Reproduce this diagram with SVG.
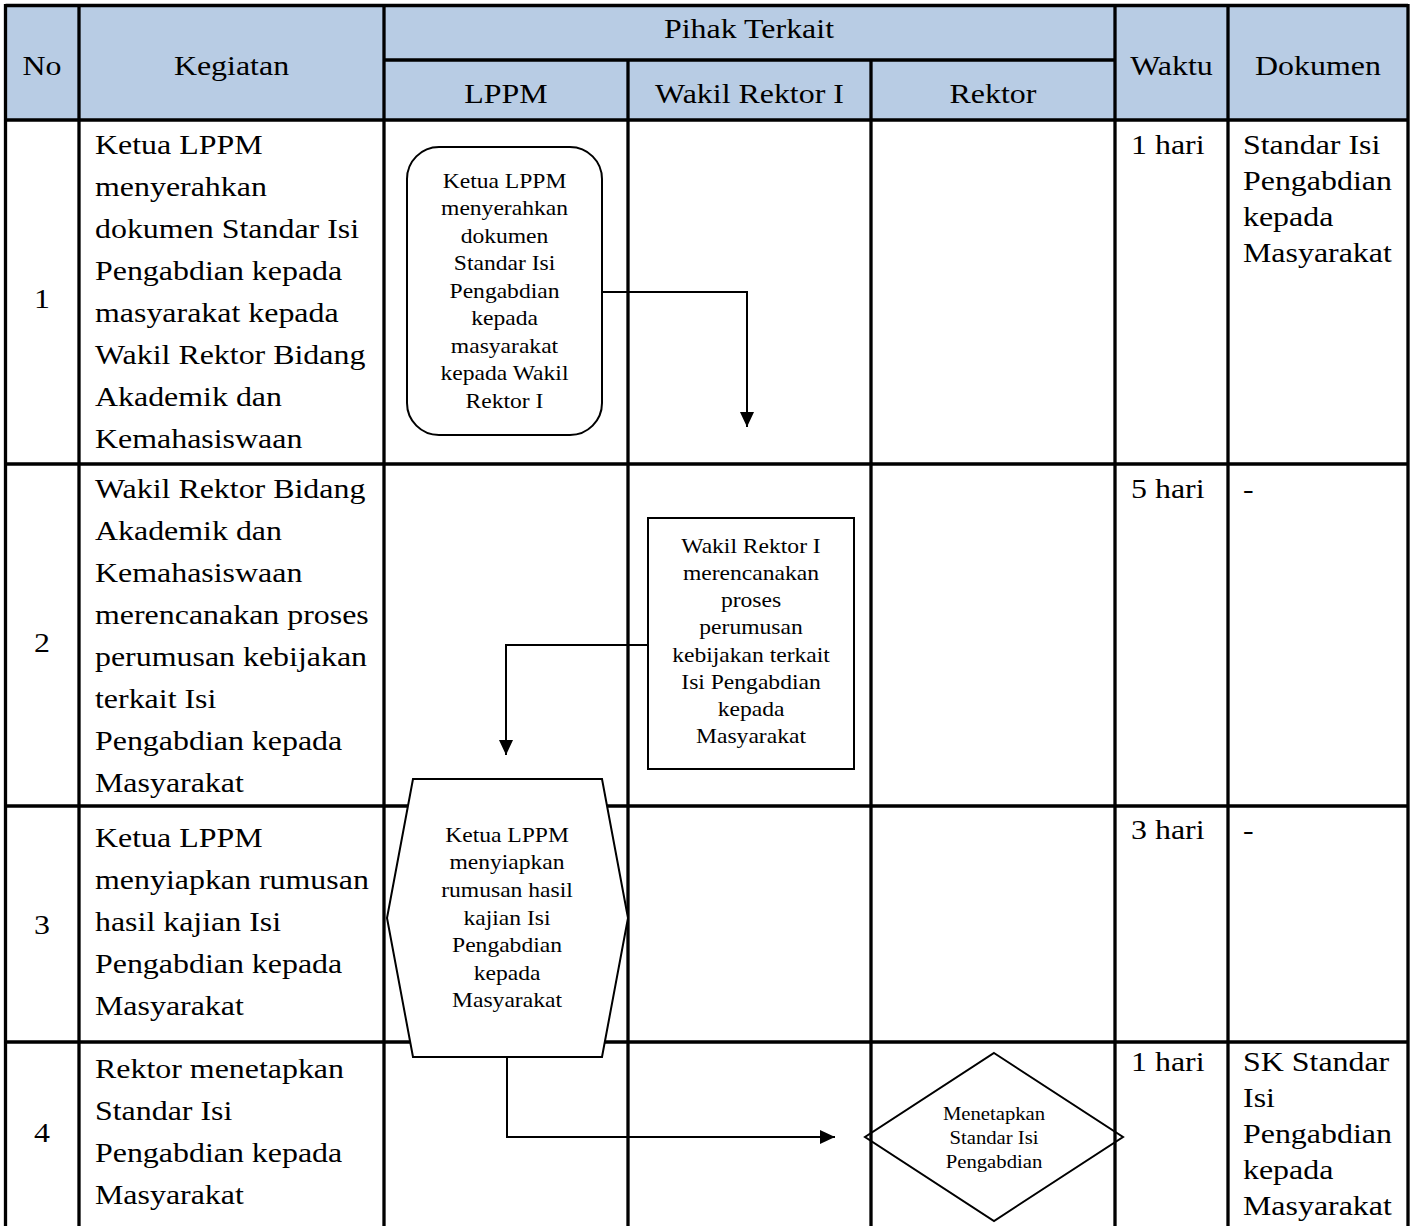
<svg xmlns="http://www.w3.org/2000/svg" width="1415" height="1226" viewBox="0 0 1415 1226">
<style>
.t{font-family:"Liberation Serif","Times New Roman",serif;fill:#000}
.big{font-size:28px}
.box{font-size:20.5px}
.dia{font-size:18px}
.mid{text-anchor:middle}
.grid{stroke:#000;stroke-width:3.3;fill:none}
.shape{stroke:#000;stroke-width:2;fill:#fff}
.conn{stroke:#000;stroke-width:2;fill:none}
</style>
<defs>
<marker id="arr" viewBox="0 0 15 14" refX="15" refY="7" markerWidth="15" markerHeight="14" markerUnits="userSpaceOnUse" orient="auto">
<path d="M0,0 L15,7 L0,14 z" fill="#000"/>
</marker>
</defs>
<rect width="1415" height="1226" fill="#fff"/>
<g id="table">
<rect x="5.5" y="5.5" width="1403" height="114.5" fill="#B8CCE4"/>
<path class="grid" d="M5.5,5.5 H1408 M384,60 H1115 M5.5,120 H1408 M5.5,464 H1408 M5.5,806 H1408 M5.5,1042 H1408 M5.5,4 V1226 M79,5.5 V1226 M384,5.5 V1226 M628,60 V1226 M871,60 V1226 M1115,5.5 V1226 M1228,5.5 V1226 M1408,4 V1226"/>
<g id="header">
<text class="t big mid" transform="translate(42,0) scale(1.14,1)" x="0" y="75">No</text>
<text class="t big mid" transform="translate(231.5,0) scale(1.14,1)" x="0" y="75">Kegiatan</text>
<text class="t big mid" transform="translate(749,0) scale(1.14,1)" x="0" y="38">Pihak Terkait</text>
<text class="t big mid" transform="translate(506,0) scale(1.14,1)" x="0" y="103">LPPM</text>
<text class="t big mid" transform="translate(749.5,0) scale(1.14,1)" x="0" y="103">Wakil Rektor I</text>
<text class="t big mid" transform="translate(993,0) scale(1.14,1)" x="0" y="103">Rektor</text>
<text class="t big mid" transform="translate(1171.5,0) scale(1.14,1)" x="0" y="75">Waktu</text>
<text class="t big mid" transform="translate(1318,0) scale(1.14,1)" x="0" y="75">Dokumen</text>
</g>
<g id="col-no">
<text class="t big mid" transform="translate(42,0) scale(1.14,1)" x="0" y="308">1</text>
<text class="t big mid" transform="translate(42,0) scale(1.14,1)" x="0" y="652">2</text>
<text class="t big mid" transform="translate(42,0) scale(1.14,1)" x="0" y="934">3</text>
<text class="t big mid" transform="translate(42,0) scale(1.14,1)" x="0" y="1142">4</text>
</g>
<g id="col-kegiatan">
<text class="t big" transform="translate(95,0) scale(1.14,1)"><tspan x="0" y="154">Ketua LPPM</tspan><tspan x="0" y="196">menyerahkan</tspan><tspan x="0" y="238">dokumen Standar Isi</tspan><tspan x="0" y="280">Pengabdian kepada</tspan><tspan x="0" y="322">masyarakat kepada</tspan><tspan x="0" y="364">Wakil Rektor Bidang</tspan><tspan x="0" y="406">Akademik dan</tspan><tspan x="0" y="448">Kemahasiswaan</tspan></text>
<text class="t big" transform="translate(95,0) scale(1.14,1)"><tspan x="0" y="498">Wakil Rektor Bidang</tspan><tspan x="0" y="540">Akademik dan</tspan><tspan x="0" y="582">Kemahasiswaan</tspan><tspan x="0" y="624">merencanakan proses</tspan><tspan x="0" y="666">perumusan kebijakan</tspan><tspan x="0" y="708">terkait Isi</tspan><tspan x="0" y="750">Pengabdian kepada</tspan><tspan x="0" y="792">Masyarakat</tspan></text>
<text class="t big" transform="translate(95,0) scale(1.14,1)"><tspan x="0" y="847">Ketua LPPM</tspan><tspan x="0" y="889">menyiapkan rumusan</tspan><tspan x="0" y="931">hasil kajian Isi</tspan><tspan x="0" y="973">Pengabdian kepada</tspan><tspan x="0" y="1015">Masyarakat</tspan></text>
<text class="t big" transform="translate(95,0) scale(1.14,1)"><tspan x="0" y="1078">Rektor menetapkan</tspan><tspan x="0" y="1120">Standar Isi</tspan><tspan x="0" y="1162">Pengabdian kepada</tspan><tspan x="0" y="1204">Masyarakat</tspan></text>
</g>
<g id="col-waktu">
<text class="t big" transform="translate(1131,0) scale(1.14,1)" x="0" y="154">1 hari</text>
<text class="t big" transform="translate(1131,0) scale(1.14,1)" x="0" y="498">5 hari</text>
<text class="t big" transform="translate(1131,0) scale(1.14,1)" x="0" y="839">3 hari</text>
<text class="t big" transform="translate(1131,0) scale(1.14,1)" x="0" y="1071">1 hari</text>
</g>
<g id="col-dokumen">
<text class="t big" transform="translate(1243,0) scale(1.14,1)"><tspan x="0" y="154">Standar Isi</tspan><tspan x="0" y="190">Pengabdian</tspan><tspan x="0" y="226">kepada</tspan><tspan x="0" y="262">Masyarakat</tspan></text>
<text class="t big" transform="translate(1243,0) scale(1.14,1)" x="0" y="498">-</text>
<text class="t big" transform="translate(1243,0) scale(1.14,1)" x="0" y="839">-</text>
<text class="t big" transform="translate(1243,0) scale(1.14,1)"><tspan x="0" y="1071">SK Standar</tspan><tspan x="0" y="1107">Isi</tspan><tspan x="0" y="1143">Pengabdian</tspan><tspan x="0" y="1179">kepada</tspan><tspan x="0" y="1215">Masyarakat</tspan></text>
</g>
</g>
<g id="node1">
<rect class="shape" x="407" y="147" width="195" height="288" rx="32" ry="32"/>
<text class="t box mid" transform="translate(504.5,0) scale(1.15,1)"><tspan x="0" y="188">Ketua LPPM</tspan><tspan x="0" y="215.5">menyerahkan</tspan><tspan x="0" y="243">dokumen</tspan><tspan x="0" y="270.5">Standar Isi</tspan><tspan x="0" y="298">Pengabdian</tspan><tspan x="0" y="325.5">kepada</tspan><tspan x="0" y="353">masyarakat</tspan><tspan x="0" y="380.5">kepada Wakil</tspan><tspan x="0" y="408">Rektor I</tspan></text>
</g>
<g id="node2">
<rect class="shape" x="648" y="518" width="206" height="251"/>
<text class="t box mid" transform="translate(751,0) scale(1.15,1)"><tspan x="0" y="553">Wakil Rektor I</tspan><tspan x="0" y="580">merencanakan</tspan><tspan x="0" y="607">proses</tspan><tspan x="0" y="634">perumusan</tspan><tspan x="0" y="662">kebijakan terkait</tspan><tspan x="0" y="689">Isi Pengabdian</tspan><tspan x="0" y="716">kepada</tspan><tspan x="0" y="743">Masyarakat</tspan></text>
</g>
<g id="node3">
<polygon class="shape" points="413,779 602,779 628,918 602,1057 413,1057 387,918"/>
<text class="t box mid" transform="translate(507,0) scale(1.15,1)"><tspan x="0" y="842">Ketua LPPM</tspan><tspan x="0" y="869.5">menyiapkan</tspan><tspan x="0" y="897">rumusan hasil</tspan><tspan x="0" y="925">kajian Isi</tspan><tspan x="0" y="952.5">Pengabdian</tspan><tspan x="0" y="980">kepada</tspan><tspan x="0" y="1007.5">Masyarakat</tspan></text>
</g>
<g id="node4">
<polygon class="shape" style="fill:none" points="994,1053 1123,1137 994,1221 865,1137"/>
<text class="t dia mid" transform="translate(994,0) scale(1.15,1)"><tspan x="0" y="1120">Menetapkan</tspan><tspan x="0" y="1144">Standar Isi</tspan><tspan x="0" y="1168">Pengabdian</tspan></text>
</g>
<g id="connectors">
<path class="conn" d="M602,292 H747 V427" marker-end="url(#arr)"/>
<path class="conn" d="M648,645 H506 V755" marker-end="url(#arr)"/>
<path class="conn" d="M507,1057 V1137 H835" marker-end="url(#arr)"/>
</g>
</svg>
